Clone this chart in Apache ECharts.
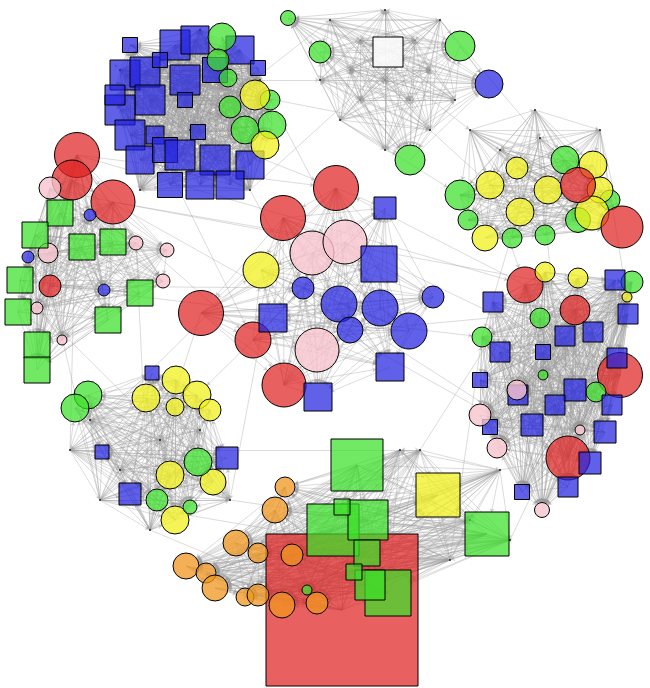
<!DOCTYPE html>
<html><head><meta charset="utf-8">
<script src="https://cdn.jsdelivr.net/npm/echarts@6/dist/echarts.min.js"></script>
<style>html,body{margin:0;padding:0;background:#fff}#c{width:650px;height:688px}</style>
</head><body><div id="c"></div>
<script>
// node: [x, y, size, shape(c/s), color key]
const clusterA = [
 [190,130,2,'c','k'],[120,70,2,'c','k'],[260,80,2,'c','k'],[250,190,2,'c','k'],[140,190,2,'c','k'],[200,30,2,'c','k'],
 [125,75,30,'s','b'],[145,72,30,'s','b'],[175,45,30,'s','b'],[195,40,28,'s','b'],[240,50,28,'s','b'],[150,100,30,'s','b'],
 [185,80,30,'s','b'],[215,70,25,'s','b'],[120,110,30,'s','b'],[130,135,30,'s','b'],[155,135,18,'s','b'],[185,100,15,'s','b'],
 [198,132,15,'s','b'],[140,160,28,'s','b'],[165,150,25,'s','b'],[180,155,30,'s','b'],[215,160,30,'s','b'],[250,165,28,'s','b'],
 [170,185,25,'s','b'],[200,185,28,'s','b'],[230,185,28,'s','b'],[130,45,15,'s','b'],[258,68,15,'s','b'],[160,60,15,'s','b'],[115,95,20,'s','b'],
 [222,37,28,'c','g'],[218,60,22,'c','g'],[228,78,18,'c','g'],[230,107,22,'c','g'],[245,130,28,'c','g'],[272,125,28,'c','g'],[270,100,20,'c','g'],
 [255,95,30,'c','y'],[265,145,28,'c','y']
];
const clusterB = [
 [330,20,2,'c','k'],[440,20,2,'c','k'],[340,120,2,'c','k'],[430,130,2,'c','k'],[385,150,2,'c','k'],[455,100,2,'c','k'],[320,80,2,'c','k'],[385,10,2,'c','k'],
 [360,40,1,'c','k'],[415,40,1,'c','k'],[360,100,1,'c','k'],[410,100,1,'c','k'],[385,80,1,'c','k'],[350,70,1,'c','k'],[430,70,1,'c','k'],
 [388,52,30,'s','w'],[288,18,15,'c','g'],[320,52,22,'c','g'],[460,46,30,'c','g'],[410,160,30,'c','g'],[489,84,28,'c','b']
];
const clusterC = [
 [470,130,2,'c','k'],[535,110,2,'c','k'],[600,130,2,'c','k'],[540,138,2,'c','k'],[500,150,2,'c','k'],
 [565,160,28,'c','g'],[460,195,30,'c','g'],[468,220,20,'c','g'],[512,238,20,'c','g'],[545,235,20,'c','g'],[578,220,25,'c','g'],[610,200,20,'c','g'],
 [593,165,28,'c','y'],[517,168,22,'c','y'],[490,185,28,'c','y'],[548,190,28,'c','y'],[520,212,28,'c','y'],[485,238,26,'c','y'],[600,190,26,'c','y'],[592,213,34,'c','y'],
 [578,185,35,'c','r'],[622,227,42,'c','r']
];
const clusterD = [
 [525,285,36,'c','r'],[575,310,30,'c','r'],[620,375,45,'c','r'],[568,458,44,'c','r'],
 [545,272,20,'c','y'],[578,278,20,'c','y'],[627,297,10,'c','y'],
 [632,282,22,'c','g'],[540,318,20,'c','g'],[482,337,20,'c','g'],[596,392,20,'c','g'],[543,375,10,'c','g'],
 [615,280,20,'s','b'],[493,302,20,'s','b'],[628,314,20,'s','b'],[593,332,20,'s','b'],[500,352,20,'s','b'],[543,352,15,'s','b'],[565,336,20,'s','b'],
 [617,358,20,'s','b'],[480,380,15,'s','b'],[575,390,22,'s','b'],[518,395,20,'s','b'],[555,405,20,'s','b'],[612,405,20,'s','b'],[532,425,22,'s','b'],
 [605,432,22,'s','b'],[490,427,15,'s','b'],[590,463,22,'s','b'],[568,487,20,'s','b'],[522,492,15,'s','b'],
 [517,390,20,'c','p'],[480,415,22,'c','p'],[497,448,20,'c','p'],[542,510,15,'c','p'],[580,430,10,'c','p']
];
const clusterE = [
 [77,155,45,'c','r'],[72,180,40,'c','r'],[113,202,44,'c','r'],[50,286,22,'c','r'],
 [50,188,22,'c','p'],[48,253,20,'c','p'],[136,243,14,'c','p'],[167,250,14,'c','p'],[163,281,14,'c','p'],[37,308,12,'c','p'],[62,340,10,'c','p'],
 [60,213,26,'s','g'],[35,235,26,'s','g'],[82,247,26,'s','g'],[113,242,26,'s','g'],[20,280,26,'s','g'],[140,293,26,'s','g'],[18,312,26,'s','g'],
 [108,320,26,'s','g'],[37,345,26,'s','g'],[37,370,26,'s','g'],
 [90,215,12,'c','b'],[28,257,12,'c','b'],[104,290,12,'c','b']
];
const clusterF = [
 [336,188,45,'c','r'],[283,218,45,'c','r'],[201,313,45,'c','r'],[253,340,36,'c','r'],[284,385,44,'c','r'],
 [312,253,44,'c','p'],[345,242,44,'c','p'],[317,350,44,'c','p'],[261,270,36,'c','y'],
 [303,288,22,'c','b'],[339,304,36,'c','b'],[380,308,36,'c','b'],[409,331,36,'c','b'],[433,297,22,'c','b'],[350,330,26,'c','b'],
 [385,208,22,'s','b'],[379,264,36,'s','b'],[273,318,28,'s','b'],[390,367,28,'s','b'],[318,397,28,'s','b']
];
const clusterG = [
 [70,450,2,'c','k'],[100,500,2,'c','k'],[150,530,2,'c','k'],[230,500,2,'c','k'],[200,430,2,'c','k'],[90,420,2,'c','k'],[160,440,2,'c','k'],[120,470,2,'c','k'],
 [176,380,28,'c','y'],[197,395,28,'c','y'],[146,398,28,'c','y'],[175,407,18,'c','y'],[210,410,22,'c','y'],[170,475,28,'c','y'],[213,482,26,'c','y'],[175,520,28,'c','y'],
 [88,395,28,'c','g'],[75,408,28,'c','g'],[198,462,28,'c','g'],[157,500,22,'c','g'],[190,507,14,'c','g'],
 [152,373,14,'s','b'],[227,458,22,'s','b'],[102,452,14,'s','b'],[130,494,22,'s','b']
];
const clusterH = [
 [420,450,2,'c','k'],[500,470,2,'c','k'],[510,540,2,'c','k'],[450,560,2,'c','k'],[400,450,2,'c','k'],[470,520,2,'c','k'],
 [342,610,152,'s','r'],
 [357,465,52,'s','g'],[333,530,52,'s','g'],[368,520,40,'s','g'],[487,534,44,'s','g'],[388,593,46,'s','g'],[370,585,30,'s','g'],
 [367,553,26,'s','g'],[342,507,16,'s','g'],[354,572,16,'s','g'],[438,495,44,'s','y'],
 [285,487,20,'c','o'],[275,510,26,'c','o'],[236,543,26,'c','o'],[258,553,20,'c','o'],[292,555,22,'c','o'],[186,566,26,'c','o'],[206,573,20,'c','o'],
 [215,588,26,'c','o'],[245,597,18,'c','o'],[258,595,22,'c','o'],[282,605,26,'c','o'],[317,603,22,'c','o'],[307,590,10,'c','g']
];
const bridges = [[0,5],[0,1],[1,2],[2,3],[3,5],[4,5],[5,6],[6,7],[6,4],[7,3],[4,3]];
const colors = {r:'rgba(225,35,35,0.72)',b:'rgba(35,35,225,0.72)',g:'rgba(60,225,40,0.72)',y:'rgba(240,240,30,0.75)',
 p:'rgba(248,196,206,0.8)',o:'rgba(240,150,30,0.75)',w:'rgba(250,250,250,0.9)',k:'#222'};

const clusters=[clusterA,clusterB,clusterC,clusterD,clusterE,clusterF,clusterG,clusterH];
const nodes=[], links=[], starts=[];
clusters.forEach(cl=>{
  const s=nodes.length; starts.push(s);
  cl.forEach(n=>nodes.push({value:[n[0],n[1]],symbolSize:n[2],symbol:n[3]==='s'?'rect':'circle',
    itemStyle:{color:colors[n[4]],borderColor:'#000',borderWidth:n[4]==='k'?0:1}}));
  for(let i=0;i<cl.length;i++)for(let j=i+1;j<cl.length;j++)links.push({source:s+i,target:s+j});
});
bridges.forEach(b=>{for(let k=0;k<4;k++)links.push({source:starts[b[0]]+k%clusters[b[0]].length,target:starts[b[1]]+(k*3)%clusters[b[1]].length});});

echarts.init(document.getElementById('c')).setOption({
  animation:false,
  grid:{left:0,right:0,top:0,bottom:0},
  xAxis:{type:'value',min:0,max:650,show:false},
  yAxis:{type:'value',min:0,max:688,inverse:true,show:false},
  series:[{type:'graph',coordinateSystem:'cartesian2d',layout:'none',data:nodes,links:links,
    edgeSymbol:['none','arrow'],edgeSymbolSize:4,
    lineStyle:{color:'#999',opacity:0.45,width:0.8},emphasis:{disabled:true}}]
});
</script></body></html>
